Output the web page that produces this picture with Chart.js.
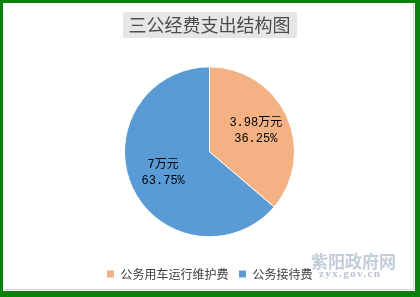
<!DOCTYPE html>
<html>
<head>
<meta charset="utf-8">
<script src="https://cdn.jsdelivr.net/npm/chart.js@4.4.1/dist/chart.umd.min.js"></script>
<style>
  html, body { margin: 0; padding: 0; background: #fff; }
  #frame {
    position: relative; width: 420px; height: 297px; box-sizing: border-box;
    border-style: solid; border-color: #0b800b; border-width: 3px 5px 6px 3px;
    overflow: hidden;
  }
  #inner { position: absolute; left: 0; top: 0; width: 411px; height: 287px; box-shadow: inset -1px -1px 0 #d9d9d9; }
  #wm1 { position: absolute; left: 308px; top: 245px; font: bold 17px "Noto Sans CJK SC", sans-serif; color: #c3ccd9; }
  #wm2 { position: absolute; left: 316px; top: 264px; font: bold 11px "Liberation Serif", serif; color: #b9c3d1; letter-spacing: 1.4px; }
</style>
</head>
<body>
<div id="frame">
  <div id="inner"><canvas id="c" width="411" height="287"></canvas></div>
  <div id="wm1">紫阳政府网</div>
  <div id="wm2">zyx.gov.cn</div>
</div>
<script>
const titulo = '三公经费支出结构图';
const categorias = ['公务用车运行维护费', '公务接待费'];
const valores = [3.98, 7];
const colores = ['#f4b183', '#5b9bd5'];
const unidad = '万元';

// fondo gris detras del titulo
const fondoTitulo = {
  id: 'fondoTitulo',
  beforeDraw(chart) {
    const ctx = chart.ctx;
    ctx.save();
    ctx.font = '18px "Noto Sans CJK SC", sans-serif';
    const w = ctx.measureText(titulo).width;
    const cx = (chart.chartArea.left + chart.chartArea.right) / 2;
    ctx.fillStyle = '#e7e6e6';
    ctx.fillRect(Math.round(cx - w / 2 - 6), 9, Math.round(w + 12), 26);
    ctx.restore();
  }
};

// etiquetas dentro de cada sector
const etiquetas = {
  id: 'etiquetas',
  afterDatasetsDraw(chart) {
    const ctx = chart.ctx;
    const total = valores.reduce((s, x) => s + x, 0);
    chart.getDatasetMeta(0).data.forEach((arc, i) => {
      const p = arc.getProps(['x', 'y', 'startAngle', 'endAngle', 'outerRadius'], true);
      const a = (p.startAngle + p.endAngle) / 2;
      const r = p.outerRadius * 0.6;
      const x = p.x + Math.cos(a) * r, y = p.y + Math.sin(a) * r;
      ctx.save();
      ctx.fillStyle = '#000';
      ctx.font = '12px "Liberation Mono", "Noto Sans CJK SC", monospace';
      ctx.textAlign = 'center'; ctx.textBaseline = 'middle';
      ctx.fillText(valores[i] + unidad, x, y - 8);
      ctx.fillText((valores[i] / total * 100).toFixed(2) + '%', x, y + 8);
      ctx.restore();
    });
  }
};

new Chart(document.getElementById('c'), {
  type: 'pie',
  data: {
    labels: categorias,
    datasets: [{ data: valores, backgroundColor: colores, borderColor: '#fff', borderWidth: 1, radius: 85 }]
  },
  options: {
    responsive: false,
    animation: false,
    layout: { padding: { left: 2, right: 0, top: 0, bottom: 0 } },
    plugins: {
      title: {
        display: true, text: titulo, color: '#4d4d4d',
        font: { family: '"Noto Sans CJK SC", sans-serif', size: 18, weight: 'normal' },
        padding: { top: 11, bottom: 10 }
      },
      legend: {
        position: 'bottom',
        labels: {
          boxWidth: 8, boxHeight: 8, padding: 10, color: '#404040',
          font: { family: '"Noto Sans CJK SC", sans-serif', size: 12 }
        }
      },
      tooltip: { enabled: false }
    }
  },
  plugins: [fondoTitulo, etiquetas]
});
</script>
</body>
</html>
